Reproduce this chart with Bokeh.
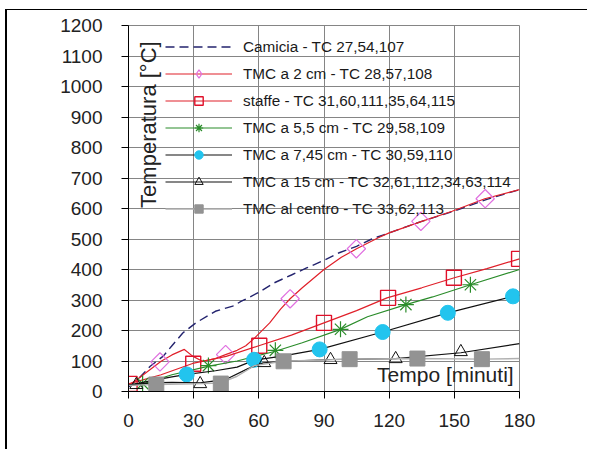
import numpy as np
from bokeh.plotting import figure
from bokeh.models import FixedTicker, Label, Legend
from bokeh.embed import file_html
from bokeh.resources import INLINE

# ---- data ----
x_ticks = [0, 30, 60, 90, 120, 150, 180]
y_ticks = [0, 100, 200, 300, 400, 500, 600, 700, 800, 900, 1000, 1100, 1200]

labels = [
    "Camicia - TC 27,54,107",
    "TMC a 2 cm - TC 28,57,108",
    "staffe - TC 31,60,111,35,64,115",
    "TMC a 5,5 cm - TC 29,58,109",
    "TMC a 7,45 cm - TC 30,59,110",
    "TMC a 15 cm - TC 32,61,112,34,63,114",
    "TMC al centro - TC 33,62,113",
]

cam_t = [0, 5, 10, 16, 20, 25, 31, 40, 48, 52, 60, 67, 75, 82, 90, 97, 105, 112, 120, 135, 150, 165, 180]
cam_T = [15, 45, 83, 116, 150, 192, 225, 263, 280, 296, 325, 356, 382, 405, 430, 455, 476, 500, 520, 558, 592, 630, 662]

tmc2_t = [0, 5, 10, 15, 20, 25.7, 29.5, 34, 40, 44.7, 50, 54, 58, 65, 70, 74.4, 80, 90, 98, 105, 115, 120, 135, 149, 164, 180]
tmc2_T = [20, 45, 72, 99, 120, 138, 116, 99, 108, 121, 135, 150, 175, 225, 270, 304, 340, 400, 440, 468, 504, 520, 558, 591, 632, 662]
tmc2_mt = [14.5, 44.7, 74.4, 104.9, 134.6, 164.2]
tmc2_mT = [97, 121, 304, 468, 558, 632]

staf_t = [0, 15, 29.5, 45, 60, 75, 90, 105, 119, 135, 150, 165, 180]
staf_T = [25, 55, 92, 115, 150, 185, 225, 265, 307, 340, 373, 403, 435]
staf_mt = [0.5, 29.8, 60.2, 90, 119.5, 149.8, 179.8]
staf_mT = [25, 91, 150, 225, 307, 373, 435]

tmc55_t = [0, 6.7, 20, 37, 50, 67.6, 80, 97.3, 110, 127.7, 140, 157.4, 180]
tmc55_T = [20, 25, 55, 83, 100, 132, 160, 203, 245, 285, 310, 350, 400]
tmc55_mt = [6.5, 36.8, 67.6, 97.6, 127.7, 157.4]
tmc55_mT = [26, 85, 135, 204, 285, 350]

tmc745_t = [0, 10, 20, 27, 40, 50, 58, 70, 88, 117, 147, 177, 180]
tmc745_T = [20, 35, 48, 56, 68, 80, 103, 115, 138, 195, 258, 312, 316]
tmc745_mt = [26.8, 57.8, 88, 117, 147, 177]
tmc745_mT = [56, 104, 138, 195, 258, 312]

tmc15_t = [0, 10, 20, 33, 45, 55, 62, 75, 93, 123, 153, 180]
tmc15_T = [20, 28, 30, 28, 40, 75, 94, 100, 105, 108, 127, 157]
tmc15_mt = [3.6, 33, 62.5, 93, 123, 153]
tmc15_mT = [22, 25, 94, 104, 107, 130]

cen_t = [0, 12.8, 30, 42.5, 50, 58, 71, 102, 133, 163, 180]
cen_T = [20, 23, 25, 28, 50, 85, 99, 106, 108, 106, 108]
cen_mt = [12.8, 42.5, 71.4, 101.8, 133, 162.7]
cen_mT = [23, 26, 99, 106, 108, 106]

FONT = "Liberation Sans"

p = figure(width=582, height=440, x_range=(0, 180), y_range=(0, 1200),
           output_backend="svg", toolbar_location=None,
           min_border_left=121, min_border_right=70, min_border_top=15, min_border_bottom=59)
p.styles = {"margin-left": "5px", "margin-top": "9px",
            "border-left": "2px solid black", "border-top": "1px solid black"}
p.outline_line_color = "#858585"
p.background_fill_color = "white"
p.border_fill_color = "white"

for ax, ticks in ((p.xaxis[0], x_ticks), (p.yaxis[0], y_ticks)):
    ax.ticker = FixedTicker(ticks=ticks)
    ax.major_label_text_font = FONT
    ax.major_label_text_font_size = "19px"
    ax.major_label_text_color = "#222222"
    ax.axis_line_color = "black"
    ax.major_tick_line_color = "black"
    ax.major_tick_in = 0
    ax.major_tick_out = 7
    ax.minor_tick_line_color = None
p.yaxis.major_label_standoff = 19
p.xaxis.major_label_standoff = 15

p.xgrid.ticker = FixedTicker(ticks=x_ticks)
p.ygrid.ticker = FixedTicker(ticks=y_ticks)
for g in (p.xgrid[0], p.ygrid[0]):
    g.grid_line_color = "#858585"
    g.grid_line_width = 1

red = "#e0202a"
pink = "#e070e0"
# Camicia
r0 = p.line(cam_t, cam_T, line_color="#23236e", line_width=1.4, line_dash="9 5")
# TMC a 2 cm
r1l = p.line(tmc2_t, tmc2_T, line_color=red, line_width=1.2)
p.scatter(tmc2_mt, tmc2_mT, marker="square", angle=np.pi / 4, size=13,
          line_color=pink, fill_alpha=0, line_width=1.2)
r1m = p.scatter([-50], [-50], marker="diamond", size=14,
                line_color=pink, fill_alpha=0, line_width=1.2)
# staffe
r2l = p.line(staf_t, staf_T, line_color=red, line_width=1.2)
r2m = p.scatter(staf_mt, staf_mT, marker="square", size=15,
                line_color="#e0102a", fill_alpha=0, line_width=1.4)
# TMC a 5,5 cm
r3l = p.line(tmc55_t, tmc55_T, line_color="#2a8c2a", line_width=1.2)
r3m = p.scatter(tmc55_mt, tmc55_mT, marker="asterisk", size=16,
                line_color="#2a8c2a", line_width=1.2)
# TMC a 7,45 cm
r4l = p.line(tmc745_t, tmc745_T, line_color="#111111", line_width=1.2)
r4m = p.scatter(tmc745_mt, tmc745_mT, marker="circle", size=15,
                line_color="#22c4ee", fill_color="#22c4ee")
# TMC a 15 cm
r5l = p.line(tmc15_t, tmc15_T, line_color="#111111", line_width=1.2)
r5m = p.scatter(tmc15_mt, tmc15_mT, marker="triangle", size=13,
                line_color="#111111", fill_alpha=0, line_width=1)
# TMC al centro
r6l = p.line(cen_t, cen_T, line_color="#b0b0b0", line_width=1.4)
r6m = p.scatter(cen_mt, cen_mT, marker="square", size=15,
                line_color="#939393", fill_color="#939393")

legend = Legend(items=[
    (labels[0], [r0]),
    (labels[1], [r1l, r1m]),
    (labels[2], [r2l, r2m]),
    (labels[3], [r3l, r3m]),
    (labels[4], [r4l, r4m]),
    (labels[5], [r5l, r5m]),
    (labels[6], [r6l, r6m]),
], location=(37, 172))
legend.padding = 0
legend.margin = 0
legend.spacing = 6
legend.glyph_width = 67
legend.glyph_height = 21
legend.label_height = 21
legend.label_standoff = 11
legend.label_text_font = FONT
legend.label_text_font_size = "15.3px"
legend.label_text_color = "#1a1a1a"
legend.background_fill_alpha = 0
legend.border_line_alpha = 0
p.add_layout(legend, "center")

p.add_layout(Label(x=9.2, y=875, text="Temperatura [°C]", angle=np.pi / 2,
                   text_align="center", text_baseline="middle",
                   text_font=FONT, text_font_size="22px", text_color="#222222"))
p.add_layout(Label(x=177.3, y=56, text="Tempo [minuti]",
                   text_align="right", text_baseline="middle",
                   text_font=FONT, text_font_size="21px", text_color="#222222"))

open("out.html", "w").write(file_html(p, INLINE))
